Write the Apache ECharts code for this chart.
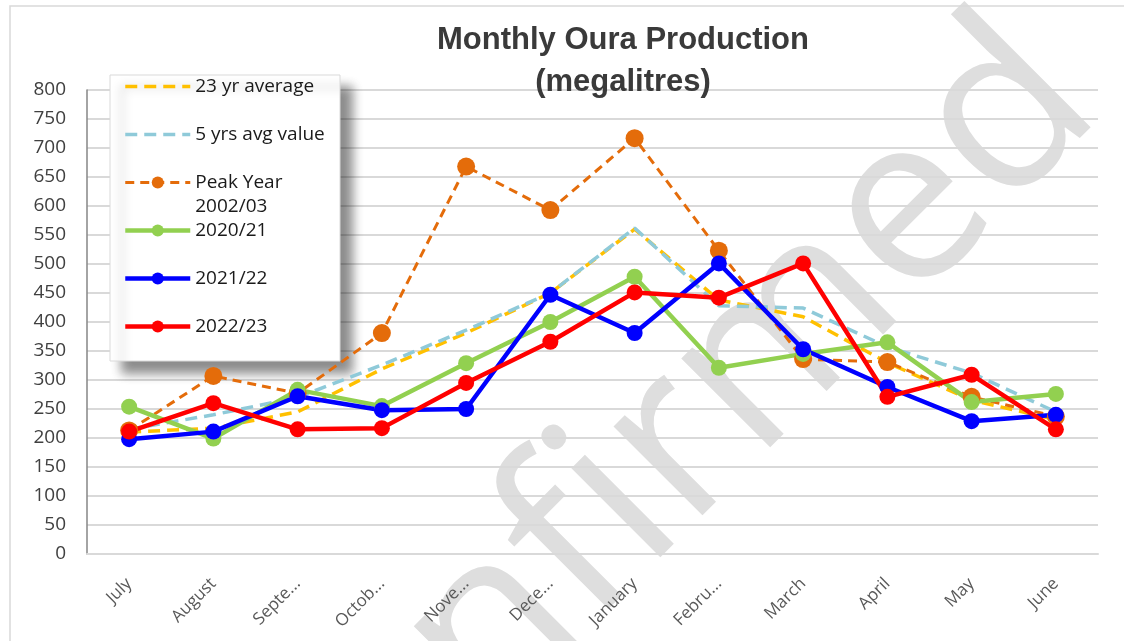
<!DOCTYPE html>
<html>
<head>
<meta charset="utf-8">
<script src="https://cdn.jsdelivr.net/npm/echarts@6/dist/echarts.min.js"></script>
<style>
  html, body { margin: 0; padding: 0; background: #fff; }
  #chart { width: 1124px; height: 641px; }
</style>
</head>
<body>
<div id="chart"></div>
<script>
// Months of the water year, July to June
const months = ['July', 'August', 'September', 'October', 'November', 'December',
                'January', 'February', 'March', 'April', 'May', 'June'];
// Tick labels as shown (long names are clipped)
const tickLabels = ['July', 'August', 'Septe...', 'Octob...', 'Nove...', 'Dece...',
                    'January', 'Febru...', 'March', 'April', 'May', 'June'];

// Monthly production, megalitres
const avg23yr   = [210, 217, 245, 319, 381, 450, 560, 438, 409, 330, 265, 232];
const avg5yr    = [215, 240, 270, 326, 386, 450, 562, 428, 424, 357, 312, 245];
const peak0203  = [213, 307, 277, 381, 668, 593, 717, 523, 336, 331, 271, 237];
const y2020_21  = [254, 199, 283, 255, 329, 400, 478, 321, 345, 365, 262, 276];
const y2021_22  = [198, 211, 272, 248, 250, 447, 381, 501, 353, 288, 229, 240];
const y2022_23  = [211, 260, 215, 217, 295, 366, 451, 442, 501, 271, 309, 215];

const yTicks = { min: 0, max: 800, interval: 50 };

const names = ['23 yr average', '5 yrs avg value', 'Peak Year 2002/03', '2020/21', '2021/22', '2022/23'];

const chart = echarts.init(document.getElementById('chart'));

function solidSeries(name, data, color) {
  return {
    name, type: 'line', data,
    symbol: 'circle', symbolSize: 16,
    lineStyle: { color, width: 4.5 },
    itemStyle: { color },
    emphasis: { disabled: true }
  };
}

chart.setOption({
  animation: false,
  backgroundColor: '#fff',
  title: {
    text: 'Monthly Oura Production\n(megalitres)',
    left: 618, top: 14,
    textAlign: 'center',
    textStyle: { fontFamily: 'Liberation Sans', fontWeight: 'bold', fontSize: 31, lineHeight: 42, color: '#3a3a3a' }
  },
  graphic: [
    // watermark, behind everything
    { type: 'text', z: -10, silent: true, x: 548, y: 575, rotation: 45 * Math.PI / 180,
      style: { text: 'Unconfirmed', fontSize: 235, fontFamily: 'Open Sans', fill: '#dedede',
               align: 'center', verticalAlign: 'middle' } },
    // chart frame
    { type: 'rect', z: -5, silent: true,
      shape: { x: 10, y: 6, width: 1200, height: 700 },
      style: { fill: 'none', stroke: '#d9d9d9', lineWidth: 1.5 } },
    // legend panel with shadow
    { type: 'rect', z: 1, silent: true,
      shape: { x: 110, y: 75, width: 230, height: 286 },
      style: { fill: '#fff', stroke: '#d9d9d9', lineWidth: 1,
               shadowBlur: 10, shadowOffsetX: 12, shadowOffsetY: 12, shadowColor: 'rgba(0,0,0,0.45)' } }
  ],
  legend: {
    orient: 'vertical',
    left: 123, top: 53,
    padding: 0,
    itemWidth: 65, itemHeight: 15,
    itemGap: -19,
    selectedMode: false,
    lineStyle: { width: 'inherit' },
    data: [
      { name: names[0], itemStyle: { opacity: 0 } },
      { name: names[1], itemStyle: { opacity: 0 } },
      names[2], names[3], names[4], names[5]
    ],
    formatter: function (name) {
      if (name === 'Peak Year 2002/03') return '{s| }\n{t|Peak Year}\n{t|2002/03}';
      return '{s| }\n{t|' + name + '}\n{s| }';
    },
    textStyle: {
      rich: {
        s: { fontSize: 19, lineHeight: 24, fontFamily: 'Open Sans' },
        t: { fontSize: 19, lineHeight: 24, fontFamily: 'Open Sans', color: '#1a1a1a' }
      }
    }
  },
  grid: { left: 87, right: 26, top: 90, bottom: 87 },
  xAxis: {
    type: 'category',
    data: months,
    boundaryGap: true,
    z: 2,
    axisLine: { lineStyle: { color: '#d9d9d9', width: 2 } },
    axisTick: { show: false },
    axisLabel: {
      rotate: 45, margin: 27, fontSize: 17, color: '#595959', fontFamily: 'Open Sans',
      interval: 0,
      formatter: (v, i) => tickLabels[i]
    }
  },
  yAxis: {
    type: 'value',
    min: yTicks.min, max: yTicks.max, interval: yTicks.interval,
    axisLine: { show: true, lineStyle: { color: '#868686', width: 1.5 } },
    axisTick: { show: false },
    splitLine: { lineStyle: { color: '#d9d9d9', width: 2 } },
    axisLabel: { fontSize: 19, color: '#404040', margin: 21, fontFamily: 'Open Sans' }
  },
  series: [
    { name: names[0], type: 'line', data: avg23yr, symbol: 'none',
      lineStyle: { color: '#FFC000', width: 3.5, type: [12, 7] }, itemStyle: { color: '#FFC000' } },
    { name: names[1], type: 'line', data: avg5yr, symbol: 'none',
      lineStyle: { color: '#8FCAD9', width: 3.5, type: [12, 7] }, itemStyle: { color: '#8FCAD9' } },
    { name: names[2], type: 'line', data: peak0203, symbol: 'circle', symbolSize: 18,
      lineStyle: { color: '#E46C0A', width: 3, type: [9, 6] }, itemStyle: { color: '#E46C0A' } },
    solidSeries(names[3], y2020_21, '#92D050'),
    solidSeries(names[4], y2021_22, '#0000FF'),
    solidSeries(names[5], y2022_23, '#FF0000')
  ]
});
</script>
</body>
</html>
